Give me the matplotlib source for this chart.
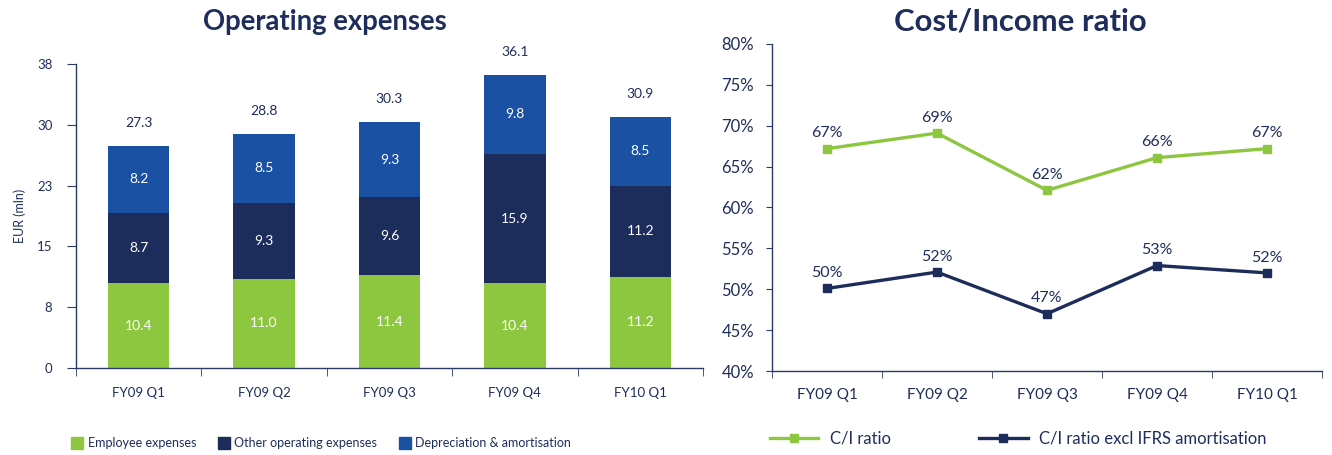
import matplotlib
matplotlib.use("Agg")
import matplotlib.pyplot as plt
import numpy as np
from matplotlib.lines import Line2D
from matplotlib.ticker import FixedLocator, FuncFormatter

plt.rcParams['font.family'] = ['Lato', 'DejaVu Sans']

# ---- data ----
quarters = ["FY09 Q1", "FY09 Q2", "FY09 Q3", "FY09 Q4", "FY10 Q1"]
employee = [10.4, 11.0, 11.4, 10.4, 11.2]
other_opex = [8.7, 9.3, 9.6, 15.9, 11.2]
depreciation = [8.2, 8.5, 9.3, 9.8, 8.5]
totals = [27.3, 28.8, 30.3, 36.1, 30.9]
y_max_left = 37.4
ytick_labels_left = ["0", "8", "15", "23", "30", "38"]

ci_ratio = [67.2, 69.1, 62.1, 66.1, 67.2]
ci_excl = [50.1, 52.1, 47.0, 52.9, 52.0]
ci_labels = ["67%", "69%", "62%", "66%", "67%"]
ci_excl_labels = ["50%", "52%", "47%", "53%", "52%"]
yticks_right = [40, 45, 50, 55, 60, 65, 70, 75, 80]

# ---- style ----
TXT = "#1F2D5C"
GREEN = "#8DC63F"
NAVY = "#1C2D5B"
BLUE = "#1A51A3"
AX = "#2B3A66"

fig = plt.figure(figsize=(13.32, 4.55), dpi=100)

# ---------- left chart ----------
ax1 = fig.add_axes([76/1332, 1-368/455, 627/1332, 304/455])
x = np.arange(len(quarters))
w = 0.49
b1 = ax1.bar(x, employee, w, color=GREEN, label="Employee expenses")
bottom2 = np.array(employee)
b2 = ax1.bar(x, other_opex, w, bottom=bottom2, color=NAVY, label="Other operating expenses")
bottom3 = bottom2 + np.array(other_opex)
b3 = ax1.bar(x, depreciation, w, bottom=bottom3, color=BLUE, label="Depreciation & amortisation")

for vals, bots in [(employee, np.zeros(5)), (other_opex, bottom2), (depreciation, bottom3)]:
    for xi, v, bt in zip(x, vals, bots):
        ax1.text(xi, bt + v/2, f"{v:.1f}", ha="center", va="center", color="white", fontsize=10)
for xi, t, top in zip(x, totals, bottom3 + np.array(depreciation)):
    ax1.annotate(f"{t:.1f}", (xi, top), xytext=(0, 12), textcoords="offset points",
                 ha="center", va="bottom", color=TXT, fontsize=10)

ax1.set_xlim(-0.5, len(quarters) - 0.5)
ax1.set_ylim(0, y_max_left)
ax1.set_yticks(np.linspace(0, y_max_left, len(ytick_labels_left)))
ax1.set_yticklabels(ytick_labels_left)
ax1.set_xticks(x)
ax1.set_xticklabels(quarters)
ax1.xaxis.set_minor_locator(FixedLocator(np.arange(-0.5, len(quarters), 1.0)))
ax1.tick_params(axis="x", which="major", length=0, pad=14, labelsize=9.5, colors=TXT)
ax1.tick_params(axis="x", which="minor", length=6, color=AX)
ax1.tick_params(axis="y", length=6.5, color=AX, labelsize=9.5, labelcolor=TXT, pad=10.5)
ax1.set_ylabel("EUR (mln)", color=TXT, fontsize=9, labelpad=8)
for s in ["top", "right"]:
    ax1.spines[s].set_visible(False)
for s in ["left", "bottom"]:
    ax1.spines[s].set_color(AX)
    ax1.spines[s].set_linewidth(1.0)

h1 = [Line2D([], [], marker="s", ls="none", color=c, markersize=8) for c in (GREEN, NAVY, BLUE)]
fig.legend(h1, ["Employee expenses", "Other operating expenses", "Depreciation & amortisation"],
           loc="center left", bbox_to_anchor=(72/1332, 1-443/455), ncol=3, frameon=False,
           fontsize=9, labelcolor=TXT, handlelength=0.8, handletextpad=0.45, columnspacing=1.8,
           borderaxespad=0, borderpad=0)

fig.text(325/1332, 1-22/455, "Operating expenses", ha="center", va="center",
         fontsize=19.8, fontweight="bold", color=TXT)

# ---------- right chart ----------
ax2 = fig.add_axes([772/1332, 1-371/455, 550/1332, 327/455])
ax2.plot(x, ci_ratio, color=GREEN, lw=2.4, marker="s", markersize=5.5)
ax2.plot(x, ci_excl, color=NAVY, lw=2.4, marker="s", markersize=5.5)
for xi, v, l in zip(x, ci_ratio, ci_labels):
    ax2.annotate(l, (xi, v), xytext=(0, 6), textcoords="offset points", ha="center",
                 va="bottom", color=TXT, fontsize=11.5)
for xi, v, l in zip(x, ci_excl, ci_excl_labels):
    ax2.annotate(l, (xi, v), xytext=(0, 6), textcoords="offset points", ha="center",
                 va="bottom", color=TXT, fontsize=11.5)

ax2.set_xlim(-0.5, len(quarters) - 0.5)
ax2.set_ylim(40, 80)
ax2.set_yticks(yticks_right)
ax2.yaxis.set_major_formatter(FuncFormatter(lambda v, p: f"{v:.0f}%"))
ax2.set_xticks(x)
ax2.set_xticklabels(quarters)
ax2.xaxis.set_minor_locator(FixedLocator(np.arange(-0.5, len(quarters), 1.0)))
ax2.tick_params(axis="x", which="major", length=0, pad=12, labelsize=11, colors=TXT)
ax2.tick_params(axis="x", which="minor", length=5, color=AX)
ax2.tick_params(axis="y", length=4.5, color=AX, labelsize=12, labelcolor=TXT, pad=8.5)
for s in ["top", "right"]:
    ax2.spines[s].set_visible(False)
for s in ["left", "bottom"]:
    ax2.spines[s].set_color(AX)
    ax2.spines[s].set_linewidth(1.0)

h2 = [Line2D([], [], color=c, lw=2.4, marker="s", markersize=5.5) for c in (GREEN, NAVY)]
fig.legend(h2, ["C/I ratio", "C/I ratio excl IFRS amortisation"],
           loc="center left", bbox_to_anchor=(770/1332, 1-439/455), ncol=2, frameon=False,
           fontsize=12, labelcolor=TXT, handlelength=2.9, handletextpad=0.7, columnspacing=5.3,
           borderaxespad=0, borderpad=0)

fig.text(1020/1332, 1-22/455, "Cost/Income ratio", ha="center", va="center",
         fontsize=22.4, fontweight="bold", color=TXT)

fig.savefig("out.png", dpi=100)
